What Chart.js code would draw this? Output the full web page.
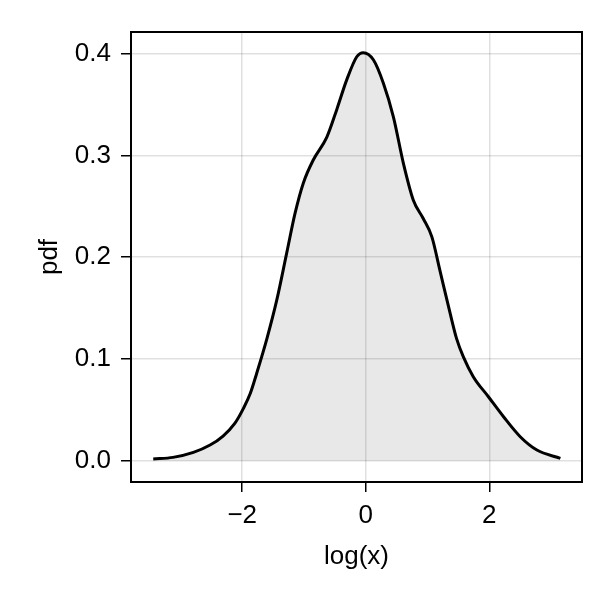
<!DOCTYPE html>
<html>
<head>
<meta charset="utf-8">
<script src="https://cdn.jsdelivr.net/npm/chart.js@4.4.1/dist/chart.umd.min.js"></script>
<style>
  body { margin: 0; background: #fff; }
  #wrap { width: 600px; height: 600px; }
</style>
</head>
<body>
<div id="wrap"><canvas id="densityChart"></canvas></div>
<script>
// density estimate of log(x)
let logX = [-3.44, -3.12, -2.79, -2.52, -2.31, -2.12, -1.98, -1.87, -1.765, -1.60, -1.44, -1.28, -1.145, -1.01, -0.85, -0.63, -0.47, -0.31, -0.146, -0.04, 0.123, 0.285, 0.447, 0.61, 0.77, 0.93, 1.07, 1.20, 1.365, 1.47, 1.58, 1.74, 1.985, 2.23, 2.50, 2.77, 3.15];
let pdf = [0.0017, 0.0033, 0.0082, 0.0154, 0.0243, 0.0367, 0.0515, 0.066, 0.086, 0.120, 0.158, 0.204, 0.243, 0.273, 0.2955, 0.318, 0.345, 0.374, 0.397, 0.401, 0.394, 0.371, 0.338, 0.292, 0.256, 0.238, 0.220, 0.187, 0.145, 0.120, 0.102, 0.0826, 0.0629, 0.0432, 0.0236, 0.0105, 0.0023];
let xTicks = [-2, 0, 2];
let yTicks = [0.0, 0.1, 0.2, 0.3, 0.4];

let points = logX.map((v, i) => ({ x: v, y: pdf[i] }));
let fontSpec = { family: "'Liberation Sans', Arial, sans-serif", size: 26 };

// frame around the plot area
let boxPlugin = {
    id: 'box',
    afterDraw(chart) {
        let a = chart.chartArea;
        let c = chart.ctx;
        c.save();
        c.strokeStyle = '#000';
        c.lineWidth = 2;
        c.strokeRect(a.left, a.top, a.right - a.left, a.bottom - a.top);
        c.restore();
    }
};

let ctx = document.getElementById("densityChart").getContext('2d');
let myChart = new Chart(ctx, {
    type: 'line',
    data: {
        datasets: [{
            data: points,
            borderColor: '#000',
            borderWidth: 3,
            backgroundColor: 'rgba(0, 0, 0, 0.09)',
            fill: 'origin',
            pointRadius: 0,
            cubicInterpolationMode: 'monotone'
        }]
    },
    options: {
        responsive: true,
        maintainAspectRatio: false,
        animation: false,
        layout: { padding: { top: 32, right: 18, left: 0, bottom: 0 } },
        plugins: { legend: { display: false }, tooltip: { enabled: false } },
        scales: {
            x: {
                type: 'linear',
                min: -3.8,
                max: 3.5,
                afterFit: function (scale) { scale.height = 118; },
                afterBuildTicks: function (scale) { scale.ticks = xTicks.map(v => ({ value: v })); },
                ticks: {
                    color: '#000',
                    font: fontSpec,
                    padding: 8,
                    maxRotation: 0,
                    callback: v => String(v).replace('-', '\u2212')
                },
                grid: { color: 'rgba(0,0,0,0.12)', lineWidth: 1.5, tickColor: '#000', tickLength: 10, tickWidth: 1.5 },
                border: { display: false },
                title: { display: true, text: 'log(x)', color: '#000', font: fontSpec, padding: { top: 0, bottom: 28 } }
            },
            y: {
                min: -0.0209,
                max: 0.4213,
                afterFit: function (scale) { scale.width = 131; },
                afterBuildTicks: function (scale) { scale.ticks = yTicks.map(v => ({ value: v })); },
                ticks: {
                    color: '#000',
                    font: fontSpec,
                    padding: 10,
                    callback: v => v.toFixed(1)
                },
                grid: { color: 'rgba(0,0,0,0.12)', lineWidth: 1.5, tickColor: '#000', tickLength: 10, tickWidth: 1.5 },
                border: { display: false },
                title: { display: true, text: 'pdf', color: '#000', font: fontSpec, padding: { top: 34, bottom: 0 } }
            }
        }
    },
    plugins: [boxPlugin]
});
</script>
</body>
</html>
